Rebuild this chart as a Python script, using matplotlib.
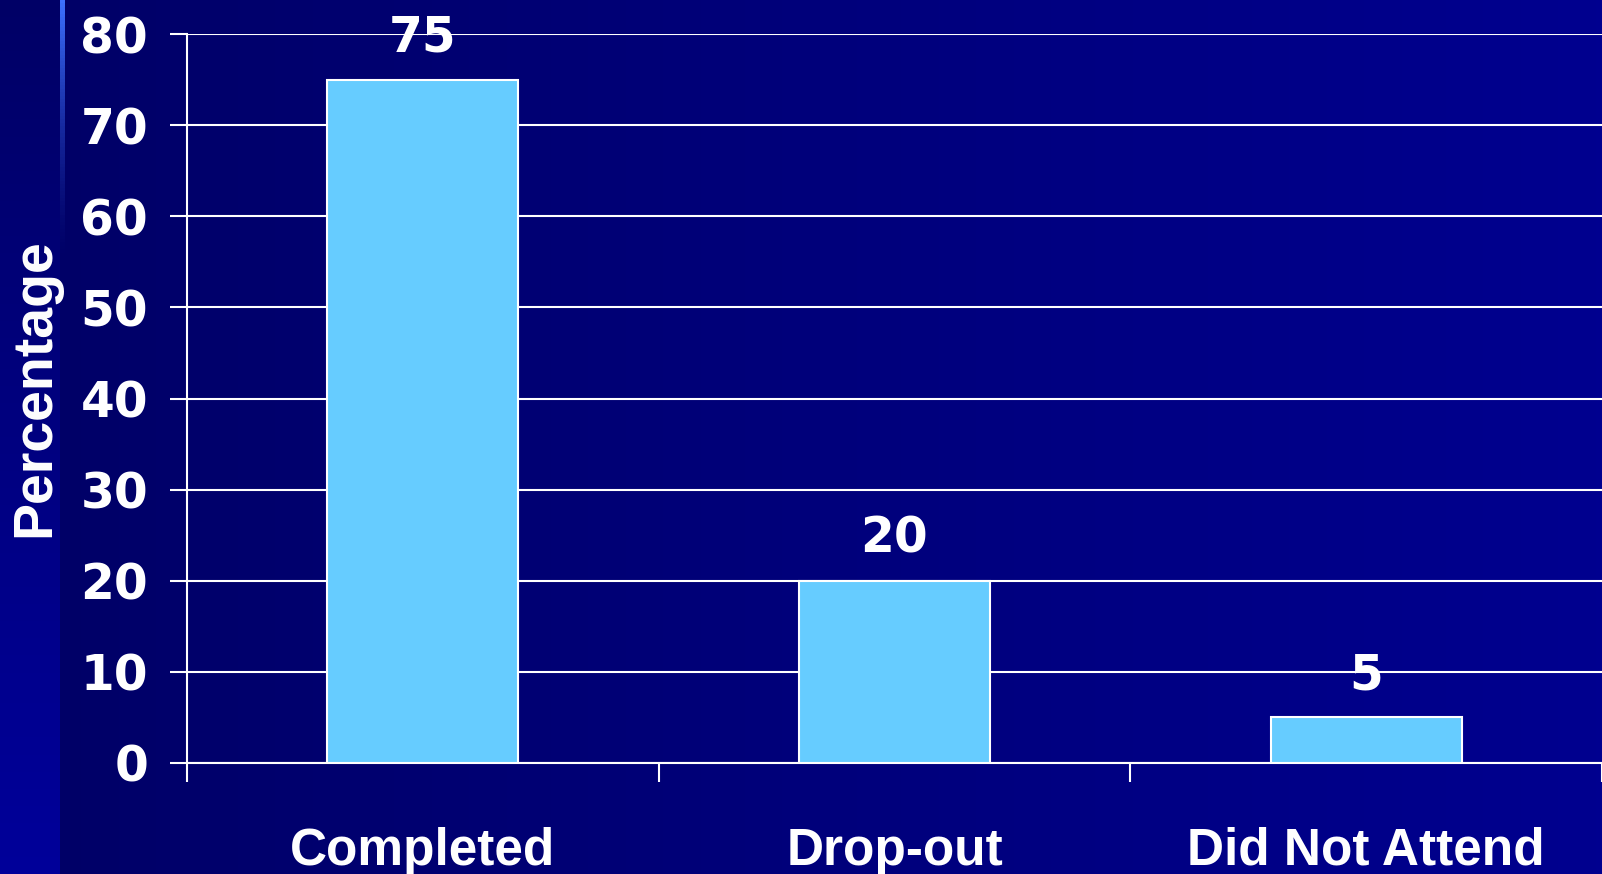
import numpy as np
import matplotlib
matplotlib.use("Agg")
import matplotlib.pyplot as plt
from matplotlib.colors import to_rgb

categorias = ["Completed", "Drop-out", "Did Not Attend"]
porcentajes = [75, 20, 5]
marcas_y = [0, 10, 20, 30, 40, 50, 60, 70, 80]

plt.rcParams["font.family"] = ["Liberation Sans", "DejaVu Sans"]
plt.rcParams["font.weight"] = "bold"
numeros = ["DejaVu Sans"]

W, H = 1602, 874
fig = plt.figure(figsize=(W / 100, H / 100), dpi=100)

#---------------- fondo degradado --------#
fondo = fig.add_axes([0, 0, 1, 1], zorder=-10)
t = np.linspace(0, 1, 256)
c1 = np.array(to_rgb("#000066"))
c2 = np.array(to_rgb("#00008f"))
horiz = c1[None, :] * (1 - t[:, None]) + c2[None, :] * t[:, None]
fondo.imshow(horiz[None, :, :], aspect="auto", extent=[0, 1, 0, 1])

# franja de la izquierda, degradado vertical
c3 = np.array(to_rgb("#00009a"))
vert = c1[None, :] * (1 - t[:, None]) + c3[None, :] * t[:, None]
fondo.imshow(vert[:, None, :], aspect="auto", extent=[0, 60 / W, 0, 1])

# linea clara que se desvanece hacia abajo
linea = np.zeros((256, 1, 4))
linea[:, 0, :3] = to_rgb("#3d70ff")
linea[:, 0, 3] = np.clip(1 - t / 0.3, 0, 1) ** 1.5
fondo.imshow(linea, aspect="auto", extent=[60 / W, 65 / W, 0, 1])
fondo.set_xlim(0, 1)
fondo.set_ylim(0, 1)
fondo.axis("off")

#---------------- barras --------#
ax = fig.add_axes([187 / W, 111 / H, 1 - 187 / W, 729 / H])
ax.patch.set_alpha(0)

x = np.arange(len(categorias))
ax.bar(x, porcentajes, width=0.405, color="#66ccff",
       edgecolor="white", linewidth=1.5, zorder=3)

for xi, v in zip(x, porcentajes):
    ax.annotate(str(v), (xi, v), xytext=(0, 20), textcoords="offset points",
                ha="center", va="baseline", color="white", fontsize=35,
                fontweight="bold", family=numeros, clip_on=False)

ax.set_xlim(-0.5, 2.5)
ax.set_ylim(0, 80)
ax.set_yticks(marcas_y)
ax.yaxis.grid(True, color="white", linewidth=1.5, zorder=0)

ax.set_xticks(x)
ax.set_xticklabels(categorias)
ax.set_xticks(np.arange(-0.5, 3, 1), minor=True)

for lado in ["top", "right"]:
    ax.spines[lado].set_visible(False)
for lado in ["left", "bottom"]:
    ax.spines[lado].set_color("white")
    ax.spines[lado].set_linewidth(1.5)

ax.tick_params(axis="y", colors="white", labelsize=35, length=12,
               width=1.5, pad=16)
for lab in ax.get_yticklabels():
    lab.set_family(numeros)
ax.tick_params(axis="x", which="major", colors="white", labelsize=37,
               length=0, pad=46)
ax.tick_params(axis="x", which="minor", colors="white", length=14,
               width=1.5)

ax.set_ylabel("Percentage", color="white", fontsize=40, fontweight="bold")
ax.yaxis.set_label_coords(-0.089, 0.515)

plt.savefig("out.png", dpi=100)
